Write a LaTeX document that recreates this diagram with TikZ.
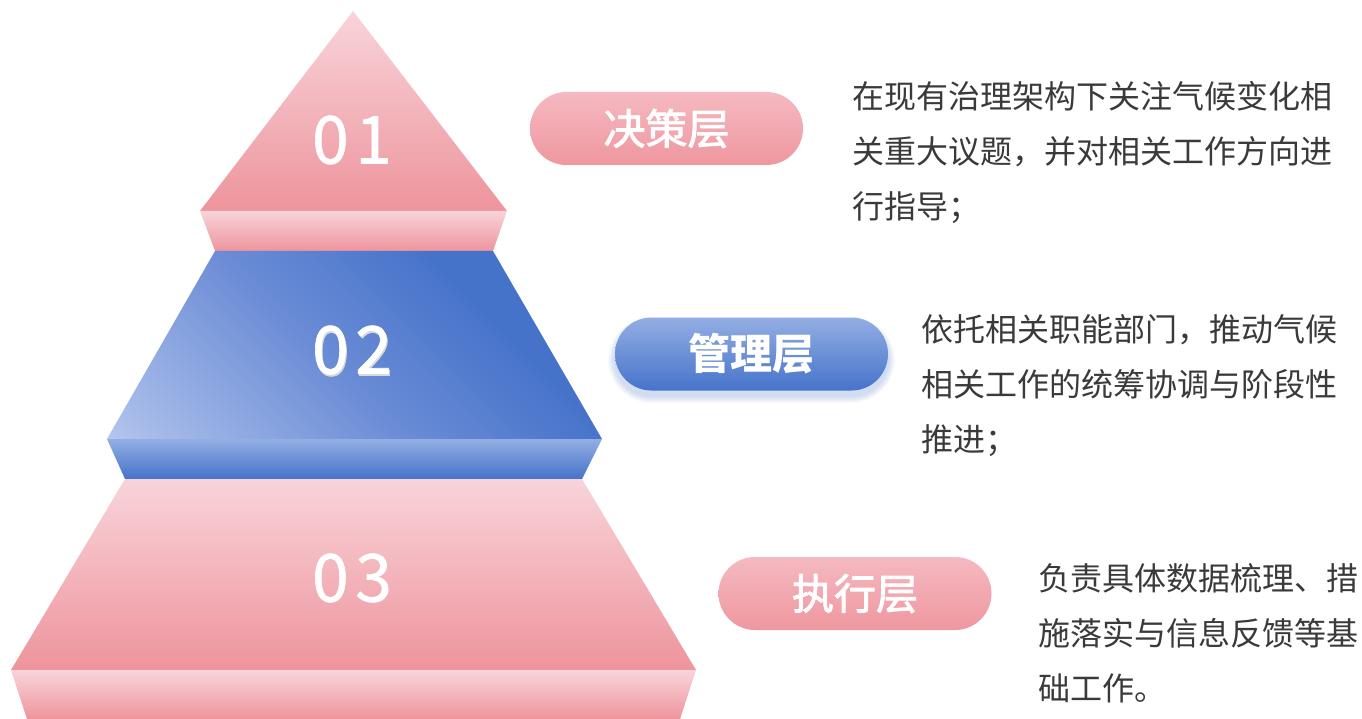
\documentclass[tikz,border=0pt]{standalone}
\usepackage{fontspec}
\setmainfont{Noto Sans CJK SC}
\newfontfamily\numfont{Noto Sans CJK SC}[LetterSpace=10, FakeBold=1]
\newfontfamily\pillfont{Noto Sans CJK SC}[FakeBold=2]
\definecolor{pinkL}{HTML}{F8D4DA}
\definecolor{pinkD}{HTML}{EE949C}
\definecolor{pillPL}{HTML}{F5B9C1}
\definecolor{pillPD}{HTML}{EF979F}
\definecolor{blueD}{HTML}{4673CA}
\definecolor{blueM}{HTML}{6C8DD6}
\definecolor{blueL2}{HTML}{A5BAE8}
\definecolor{blueL}{HTML}{D5E0F3}
\definecolor{bandBL}{HTML}{93AEE3}
\definecolor{txt}{HTML}{3A3A3A}
\pgfdeclareverticalshading{bluegrad}{100bp}{color(0bp)=(blueD); color(33bp)=(blueD); color(55bp)=(blueM); color(80bp)=(blueL2); color(97bp)=(blueL); color(100bp)=(blueL)}
\tikzset{
  pinkface/.style={top color=pinkL, bottom color=pinkD, draw=none},
  blueface/.style={shade, shading=bluegrad, shading angle=135, draw=none},
  blueband/.style={top color=bandBL, bottom color=blueD, draw=none},
  numlabel/.style={text=white, font=\fontsize{66}{66}\numfont, inner sep=0pt},
  pill/.style={minimum width=273pt, minimum height=73pt, rounded corners=36.5pt, inner sep=0pt, text=white, font=\fontsize{42}{42}\pillfont},
  pillpink/.style={pill, top color=pillPL, bottom color=pillPD},
  pillblue/.style={pill, top color=bandBL, bottom color=blueD, font=\fontsize{42}{42}\bfseries},
  pillshadow/.style={fill=blueD, fill opacity=0.035, draw=none},
  desc/.style={anchor=base west, align=left, inner sep=0pt, text=txt, font=\fontsize{32}{55}\selectfont},
}
\begin{document}
\begin{tikzpicture}[x=1pt, y=-1pt]
\path[use as bounding box, fill=white] (0,0) rectangle (1362,719);
% tier 1
\path[pinkface] (353,11) -- (507,211) -- (200,211) -- cycle;
\path[pinkface] (200,211) -- (507,211) -- (493,251) -- (215,251) -- cycle;
% tier 2
\path[blueface] (215,251) -- (493,251) -- (602,439) -- (107,439) -- cycle;
\path[blueband] (107,439) -- (602,439) -- (582,479) -- (125,479) -- cycle;
% tier 3
\path[pinkface] (125,479) -- (582,479) -- (696,670) -- (11,670) -- cycle;
\path[pinkface] (11,670) -- (696,670) -- (680,719) -- (27,719) -- cycle;
% numbers
\node[numlabel] (n1) at (352,140) {01};
\node[numlabel, text=black!15] (n2s) at (353,352) {02};
\node[numlabel] (n2) at (352,350) {02};
\node[numlabel] (n3) at (352,578) {03};
% pill shadow
\foreach \e in {1,...,7}{
  \path[pillshadow, rounded corners=36.5pt+\e pt] (615-\e,324-\e) rectangle (888+\e,396+\e);
}
% pills
\node[pillpink] (p1) at (666.5,128.5) {决策层};
\node[pillblue] (p2) at (751.5,354) {管理层};
\node[pillpink] (p3) at (855,593.5) {执行层};
% descriptions
\node[desc] (d1) at (852,219) {在现有治理架构下关注气候变化相\\关重大议题，并对相关工作方向进\\行指导；};
\node[desc] (d2) at (921,451) {依托相关职能部门，推动气候\\相关工作的统筹协调与阶段性\\推进；};
\node[desc] (d3) at (1038,700) {负责具体数据梳理、措\\施落实与信息反馈等基\\础工作。};
\end{tikzpicture}
\end{document}
